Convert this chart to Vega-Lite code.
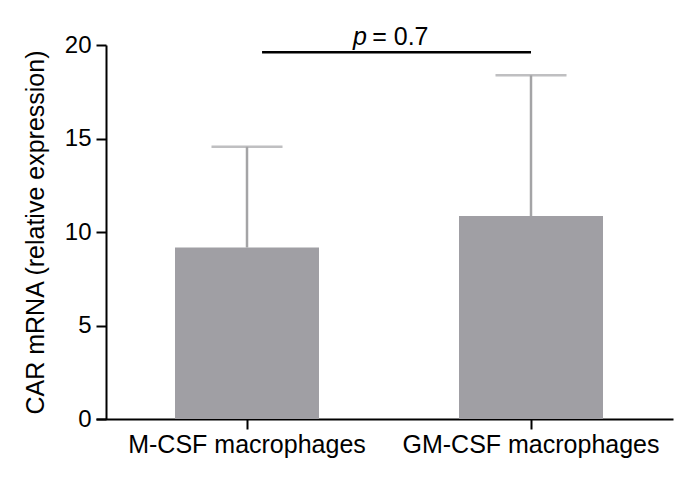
{
  "$schema": "https://vega.github.io/schema/vega-lite/v6.json",
  "autosize": {"type": "none"},
  "padding": {"left": 96, "top": 45, "right": 20, "bottom": 66},
  "width": 577,
  "height": 374,
  "background": "white",
  "config": {
    "view": {"stroke": null},
    "font": "Liberation Sans",
    "axis": {"grid": false, "domainColor": "black", "tickColor": "black", "labelColor": "black", "titleColor": "black", "labelFont": "Liberation Sans", "titleFont": "Liberation Sans", "domainWidth": 2, "tickWidth": 2, "tickSize": 10, "labelLimit": 0, "labelFontSize": 24, "titleFontSize": 25, "titleFontWeight": "normal"},
    "axisX": {"labelAngle": 0, "labelPadding": 3, "labelFontSize": 25, "title": null},
    "axisY": {"offset": -10, "labelPadding": 5, "titlePadding": 16}
  },
  "datasets": {
    "bars": [
      {"group": "M-CSF macrophages", "mean": 9.17, "upper": 14.56},
      {"group": "GM-CSF macrophages", "mean": 10.85, "upper": 18.38}
    ],
    "sig": [
      {"group": "M-CSF macrophages", "g2": "GM-CSF macrophages", "y": 19.61}
    ],
    "ptext": [
      {"group": "M-CSF macrophages", "y": 20, "label": "p"}
    ],
    "vtext": [
      {"group": "GM-CSF macrophages", "y": 20, "label": "= 0.7"}
    ]
  },
  "encoding": {
    "x": {
      "field": "group", "type": "nominal",
      "scale": {"domain": ["M-CSF macrophages", "GM-CSF macrophages"], "paddingInner": 0, "paddingOuter": 0.01585, "align": 1},
      "axis": {"title": null}
    },
    "y": {
      "type": "quantitative",
      "scale": {"domain": [0, 20], "nice": false},
      "axis": {"title": "CAR mRNA (relative expression)", "values": [0, 5, 10, 15, 20]}
    }
  },
  "layer": [
    {
      "data": {"name": "bars"},
      "mark": {"type": "rule", "color": "#a4a4a6", "strokeWidth": 2.5},
      "encoding": {
        "y": {"field": "mean", "type": "quantitative"},
        "y2": {"field": "upper"}
      }
    },
    {
      "data": {"name": "bars"},
      "mark": {"type": "tick", "color": "#a4a4a6", "size": 71, "thickness": 2.5, "orient": "horizontal"},
      "encoding": {
        "y": {"field": "upper", "type": "quantitative"}
      }
    },
    {
      "data": {"name": "bars"},
      "mark": {"type": "bar", "color": "#a09fa4", "width": {"band": 0.507}},
      "encoding": {
        "y": {"field": "mean", "type": "quantitative"}
      }
    },
    {
      "data": {"name": "sig"},
      "mark": {"type": "rule", "color": "black", "strokeWidth": 2.5},
      "encoding": {
        "x": {"field": "group", "type": "nominal", "bandPosition": 0.553},
        "x2": {"field": "g2", "bandPosition": 0.5},
        "y": {"field": "y", "type": "quantitative"}
      }
    },
    {
      "data": {"name": "ptext"},
      "mark": {"type": "text", "fontSize": 25, "fontStyle": "italic", "align": "center", "baseline": "alphabetic", "color": "black", "font": "Liberation Sans"},
      "encoding": {
        "x": {"field": "group", "type": "nominal", "bandPosition": 0.898},
        "y": {"field": "y", "type": "quantitative"},
        "text": {"field": "label"}
      }
    },
    {
      "data": {"name": "vtext"},
      "mark": {"type": "text", "fontSize": 25, "align": "center", "baseline": "alphabetic", "color": "black", "font": "Liberation Sans"},
      "encoding": {
        "x": {"field": "group", "type": "nominal", "bandPosition": 0.04},
        "y": {"field": "y", "type": "quantitative"},
        "text": {"field": "label"}
      }
    }
  ]
}
